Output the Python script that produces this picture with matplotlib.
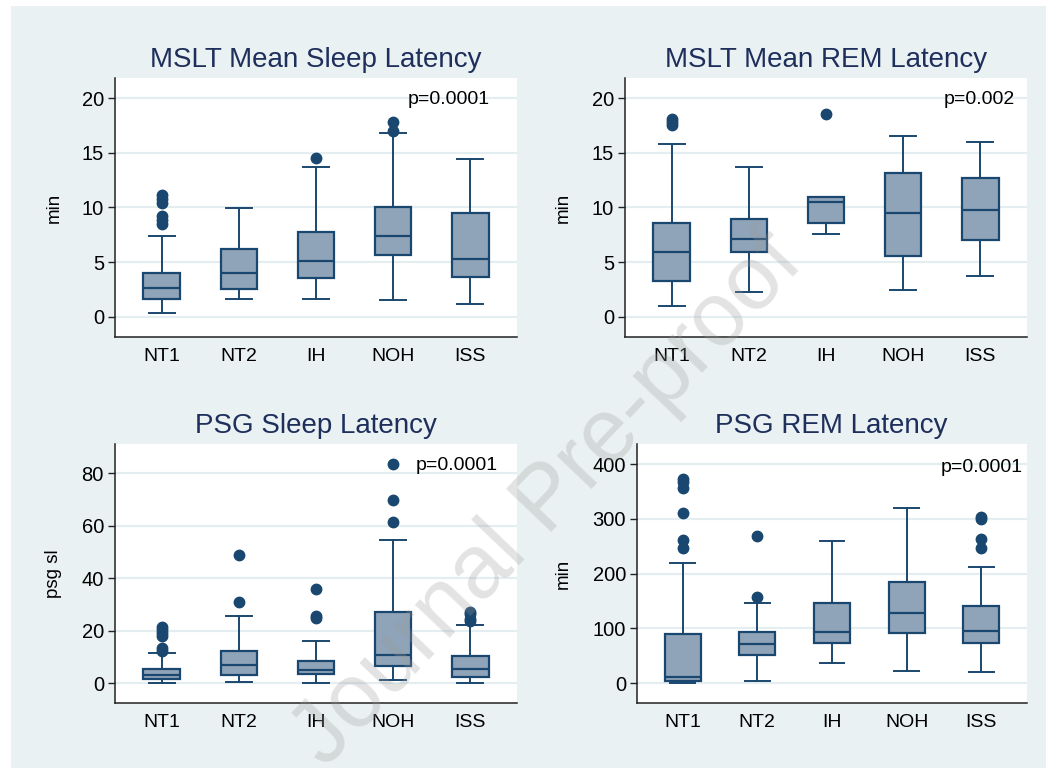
import matplotlib
matplotlib.use("Agg")
import matplotlib.pyplot as plt
from matplotlib.patches import Rectangle

plt.rcParams['font.family'] = ['Liberation Sans', 'DejaVu Sans']

groups = ["NT1", "NT2", "IH", "NOH", "ISS"]

# MSLT Mean Sleep Latency
mslt_sl_q1 = [1.68, 2.53, 3.57, 5.68, 3.63]
mslt_sl_med = [2.69, 4.03, 5.13, 7.42, 5.28]
mslt_sl_q3 = [4.03, 6.17, 7.73, 10.05, 9.53]
mslt_sl_lo = [0.37, 1.68, 1.68, 1.56, 1.19]
mslt_sl_hi = [7.42, 9.92, 13.74, 16.85, 14.41]
mslt_sl_out = [[8.5, 8.9, 9.2, 10.4, 10.8, 11.1], [], [14.5], [17.0, 17.8], []]

# MSLT Mean REM Latency
mslt_rl_q1 = [3.30, 5.89, 8.55, 5.59, 7.02]
mslt_rl_med = [5.98, 7.11, 10.5, 9.50, 9.74]
mslt_rl_q3 = [8.55, 8.95, 10.96, 13.19, 12.70]
mslt_rl_lo = [0.98, 2.26, 7.57, 2.44, 3.73]
mslt_rl_hi = [15.82, 13.74, 10.96, 16.52, 16.0]
mslt_rl_out = [[17.5, 17.8, 18.1], [], [18.5], [], []]

# PSG Sleep Latency
psg_sl_q1 = [1.65, 3.17, 3.56, 6.6, 2.4]
psg_sl_med = [3.05, 6.86, 4.95, 10.9, 5.46]
psg_sl_q3 = [5.2, 12.06, 8.25, 27.2, 10.2]
psg_sl_lo = [0.0, 0.5, 0.0, 1.0, 0.0]
psg_sl_hi = [11.4, 25.4, 16.0, 54.6, 22.0]
psg_sl_out = [[12.4, 13.3, 18.0, 19.0, 20.3, 21.3], [30.9, 48.9],
              [25.0, 25.5, 35.9], [61.3, 69.8, 83.4], [23.7, 24.5, 26.3, 27.3]]

# PSG REM Latency
psg_rl_q1 = [4.3, 51.8, 72.5, 90.7, 73.7]
psg_rl_med = [11.0, 70.6, 92.5, 128.5, 94.4]
psg_rl_q3 = [89.5, 92.5, 146.0, 184.0, 140.0]
psg_rl_lo = [0.0, 4.3, 36.0, 22.5, 20.7]
psg_rl_hi = [219.0, 146.7, 260.0, 320.0, 212.5]
psg_rl_out = [[246.6, 262.0, 310.0, 357.0, 368.0, 372.6], [158.0, 269.0], [], [],
              [246.6, 263.0, 300.6, 304.0]]

titles = ["MSLT Mean Sleep Latency", "MSLT Mean REM Latency",
          "PSG Sleep Latency", "PSG REM Latency"]
ylabels = ["min", "min", "psg sl", "min"]
pvalues = ["p=0.0001", "p=0.002", "p=0.0001", "p=0.0001"]
yticks_list = [[0, 5, 10, 15, 20], [0, 5, 10, 15, 20],
               [0, 20, 40, 60, 80], [0, 100, 200, 300, 400]]

panels = [
    (mslt_sl_q1, mslt_sl_med, mslt_sl_q3, mslt_sl_lo, mslt_sl_hi, mslt_sl_out),
    (mslt_rl_q1, mslt_rl_med, mslt_rl_q3, mslt_rl_lo, mslt_rl_hi, mslt_rl_out),
    (psg_sl_q1, psg_sl_med, psg_sl_q3, psg_sl_lo, psg_sl_hi, psg_sl_out),
    (psg_rl_q1, psg_rl_med, psg_rl_q3, psg_rl_lo, psg_rl_hi, psg_rl_out),
]

W, H = 1046, 768
BG = '#EAF1F3'
NAVY = '#1A476F'
FILL = '#8FA4B8'
TITLE_C = '#1E2F5C'

fig = plt.figure(figsize=(W / 100, H / 100), dpi=100)
fig.patch.set_facecolor('white')
bg_rect = Rectangle((11 / W, 0), 1 - 11 / W, 1 - 6 / H,
                    transform=fig.transFigure, facecolor=BG,
                    edgecolor='none', zorder=-10)
fig.add_artist(bg_rect)

# axes boxes in pixels: (left, top, right, bottom)
boxes_px = [(115, 78, 517, 337), (625, 78, 1027, 337),
            (115, 444, 517, 703), (637, 444, 1027, 703)]
ylims = [(-1.83, 21.83), (-1.83, 21.83), (-7.6, 91.2), (-36.5, 437)]
title_pos = [(316, 60), (826, 60), (316, 426), (831, 426)]
ylabel_x = [63, 572, 62, 572]
ptext_pos = [(490, 100), (1015, 100), (498, 465), (1023, 467)]

for i, (q1, med, q3, lo, hi, out) in enumerate(panels):
    l, t, r, b = boxes_px[i]
    ax = fig.add_axes([l / W, 1 - b / H, (r - l) / W, (b - t) / H])
    ax.set_zorder(1)
    ax.set_facecolor('white')
    stats = []
    for g, a, m, c, wl, wh, f in zip(groups, q1, med, q3, lo, hi, out):
        stats.append(dict(label=g, q1=a, med=m, q3=c, whislo=wl, whishi=wh, fliers=f))
    ax.bxp(stats, positions=range(1, 6), widths=0.48, capwidths=0.33,
           patch_artist=True, showfliers=True,
           boxprops=dict(facecolor=FILL, edgecolor=NAVY, linewidth=1.6),
           medianprops=dict(color=NAVY, linewidth=1.6),
           whiskerprops=dict(color=NAVY, linewidth=1.4),
           capprops=dict(color=NAVY, linewidth=1.4),
           flierprops=dict(marker='o', markerfacecolor=NAVY, markeredgecolor=NAVY,
                           markersize=7.5, linestyle='none'))
    ax.set_xlim(0.39, 5.61)
    ax.set_ylim(*ylims[i])
    ax.set_yticks(yticks_list[i])
    ax.grid(axis='y', color='#E4EEF1', linewidth=1.6, zorder=0)
    ax.set_axisbelow(True)
    for s in ['top', 'right']:
        ax.spines[s].set_visible(False)
    for s in ['left', 'bottom']:
        ax.spines[s].set_color('#222222')
        ax.spines[s].set_linewidth(1.1)
    ax.tick_params(axis='x', length=0, pad=8, labelsize=14, colors='black')
    ax.tick_params(axis='y', length=5, width=1.0, pad=3, labelsize=14.5,
                   colors='black', color='#222222')
    ax.set_ylabel(ylabels[i], fontsize=13.5)
    ax.yaxis.set_label_coords((ylabel_x[i] - l) / (r - l), 0.5)
    px, py = ptext_pos[i]
    ax.text((px - l) / (r - l), (b - py) / (b - t), pvalues[i], transform=ax.transAxes,
            ha='right', va='center', fontsize=14, color='black')
    tx, ty = title_pos[i]
    fig.text(tx / W, 1 - ty / H, titles[i], ha='center', va='center',
             fontsize=20, color=TITLE_C)

wm = fig.text(548 / W, 1 - 500 / H, "Journal Pre-proof", rotation=46.4,
              ha='center', va='center', rotation_mode='anchor', fontsize=65,
              color='#9A9A9A', alpha=0.28)
wm.set_zorder(10)

fig.savefig('out.png', dpi=100, facecolor='white')
